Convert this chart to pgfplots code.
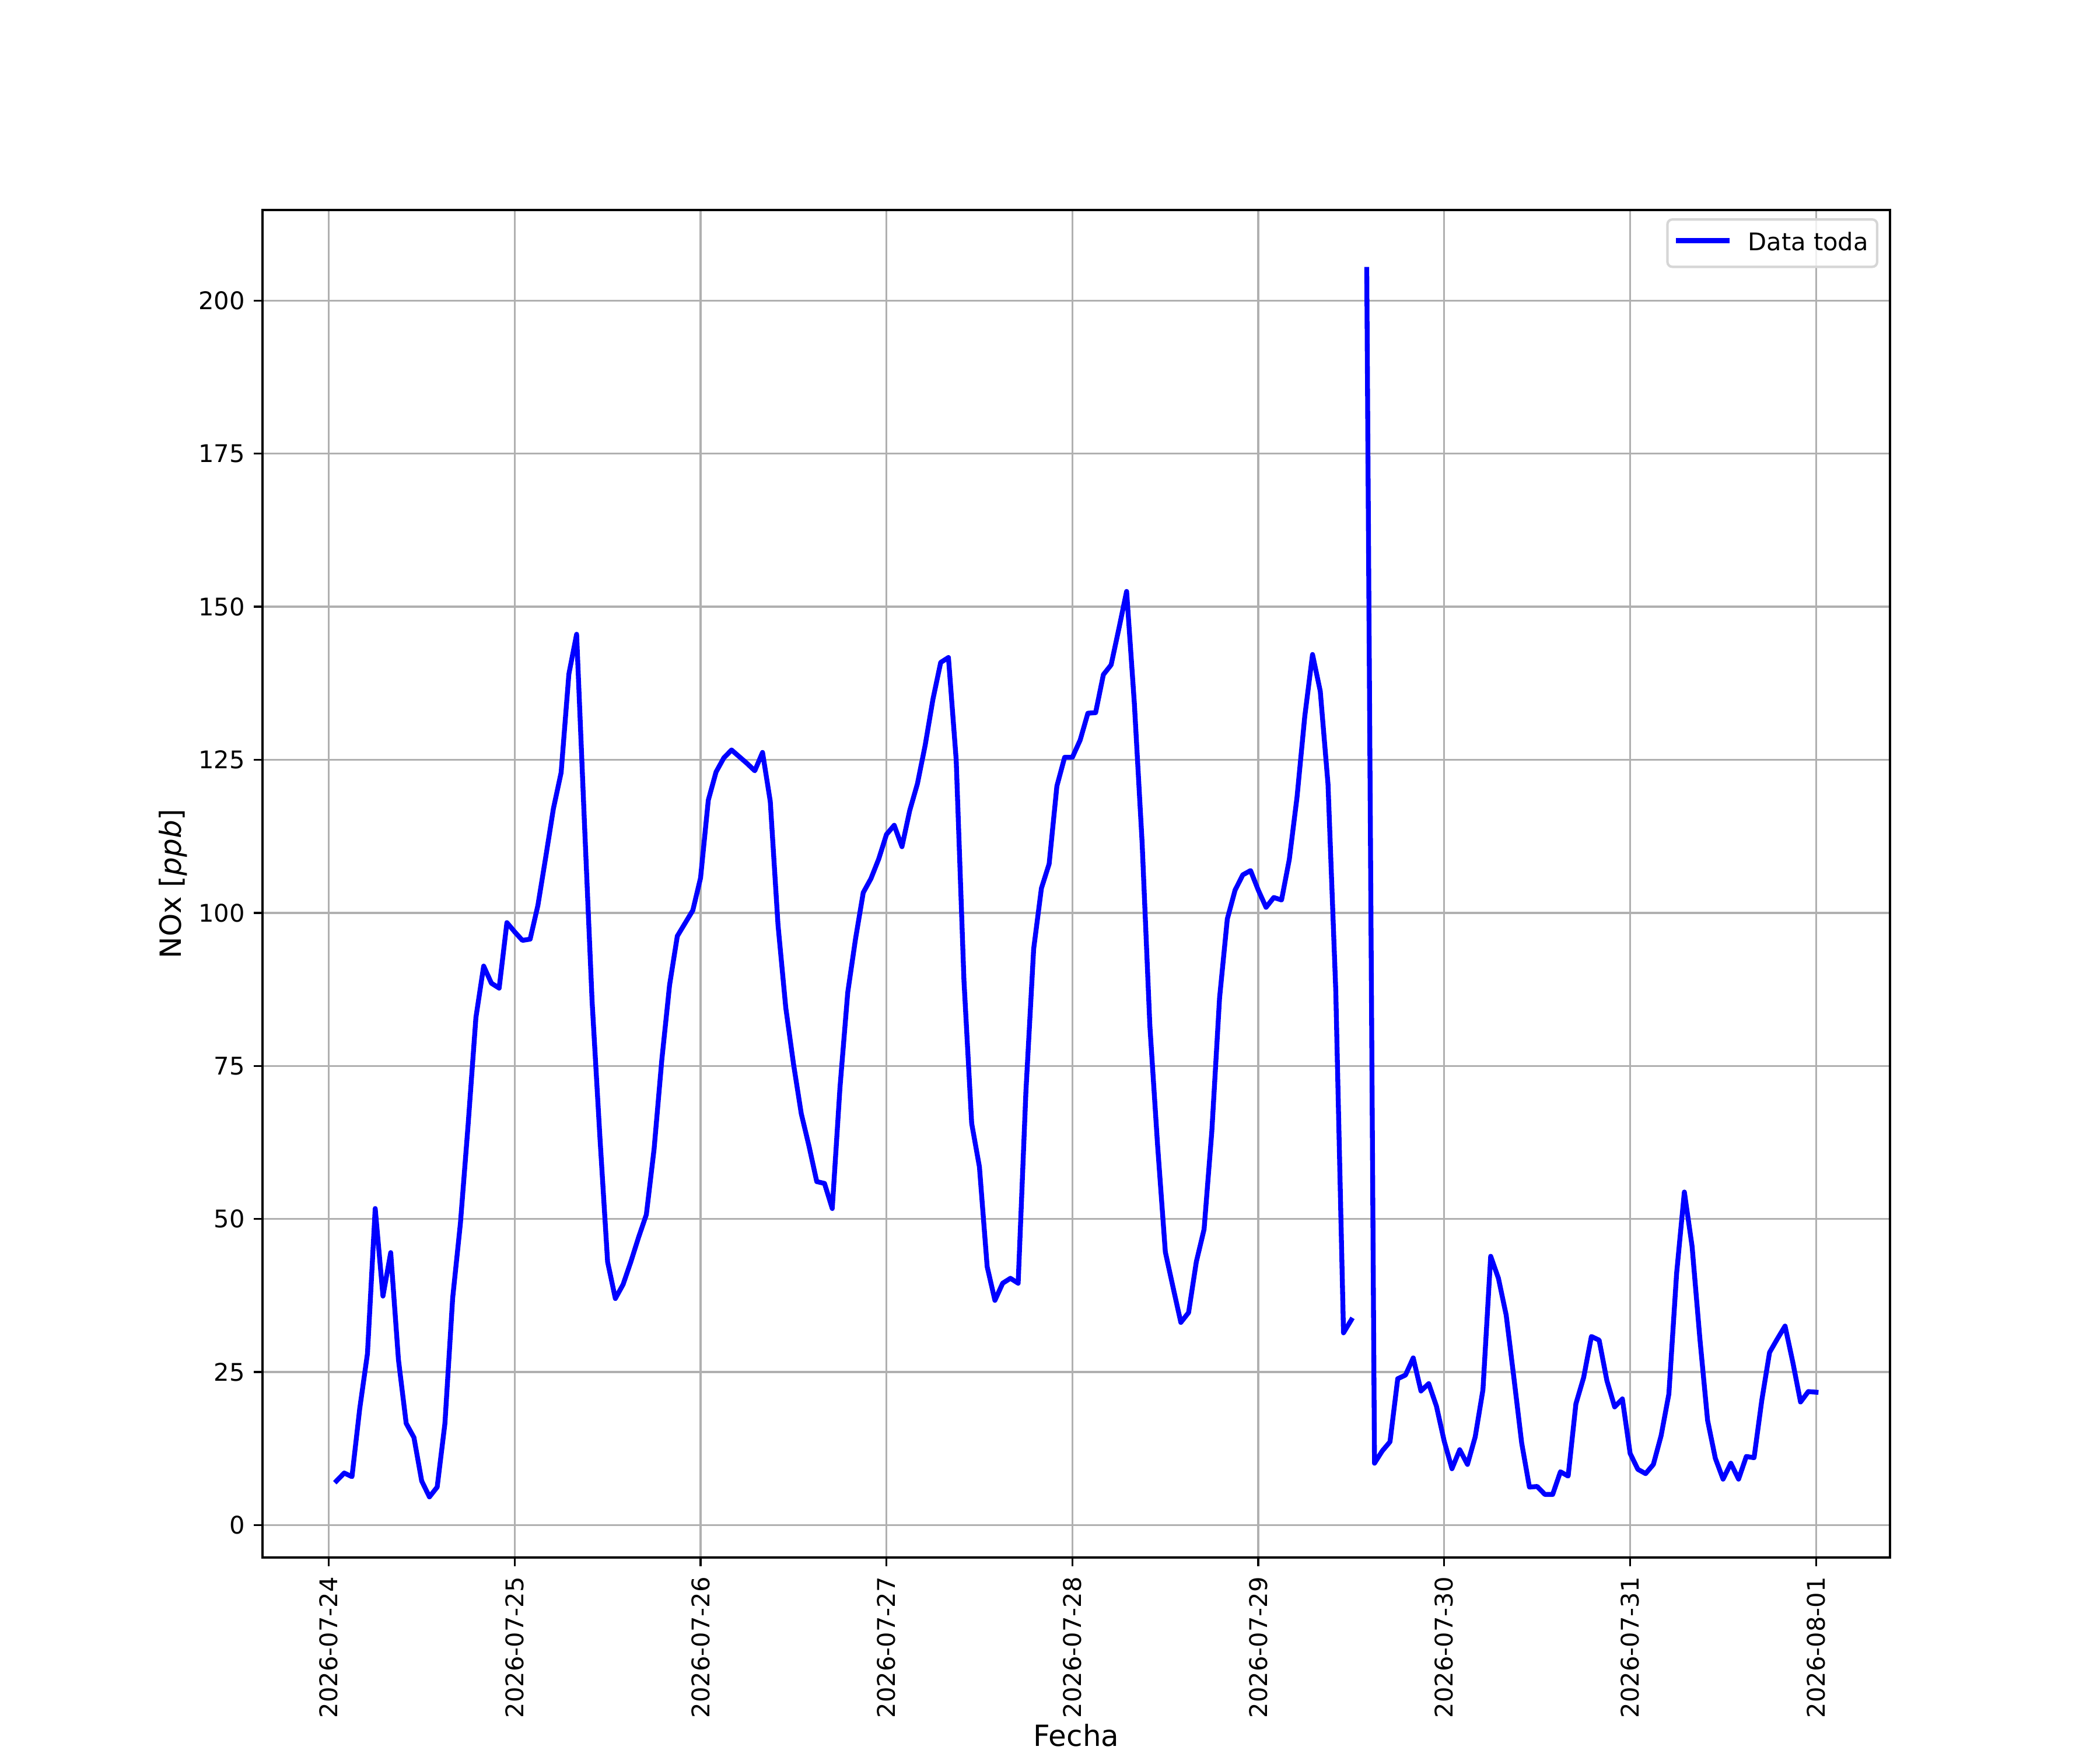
\documentclass[border=0pt]{standalone}
\usepackage{fontspec}
\setmainfont{DejaVu Sans}
\usepackage{pgfplots}
\pgfplotsset{compat=1.18}
\definecolor{gridgray}{HTML}{B0B0B0}
\definecolor{legframe}{HTML}{D6D6D6}
\begin{document}
\begin{tikzpicture}
\path[use as bounding box] (0,0) rectangle (30.48cm,25.4cm);
\begin{axis}[
  at={(3.81cm,2.794cm)}, anchor=south west,
  scale only axis, width=23.622cm, height=19.558cm,
  xmin=-8.55, xmax=201.55, ymin=-5.3, ymax=214.8,
  xtick={0,24,48,72,96,120,144,168,192},
  xticklabels={2026-07-24,2026-07-25,2026-07-26,2026-07-27,2026-07-28,2026-07-29,2026-07-30,2026-07-31,2026-08-01},
  ytick={0,25,50,75,100,125,150,175,200},
  grid=major,
  major grid style={draw=gridgray, line width=0.8bp},
  axis line style={line width=0.8bp},
  tick align=outside, tick pos=left,
  major tick length=3.5bp,
  every tick/.style={black, line width=0.8bp},
  minor tick num=0,
  /pgf/number format/assume math mode=true,
  tick label style={font=\fontsize{10bp}{12bp}\selectfont, inner sep=0pt},
  xticklabel style={yshift=-4.3bp, rotate=90, anchor=east},
  yticklabel style={xshift=-3.6bp, anchor=east},
  xlabel={Fecha}, ylabel={NOx [\textit{ppb}]},
  label style={font=\fontsize{12bp}{14bp}\selectfont, inner sep=0pt},
  xlabel style={at={(axis description cs:0.5,-0.1232)}, anchor=north},
  ylabel style={at={(axis description cs:-0.0548,0.5)}, anchor=center},
  unbounded coords=jump,
  legend style={at={(axis description cs:1,1)}, anchor=north east, xshift=-4.8bp, yshift=-3.4bp,
    draw=legframe, line width=1bp, rounded corners=2bp, fill=white, fill opacity=0.8,
    draw opacity=1, text opacity=1, inner xsep=3.6bp, inner ysep=5.2bp,
    font=\fontsize{10bp}{12bp}\selectfont, nodes={inner sep=0pt},
    /tikz/every odd column/.append style={column sep=7.5bp}},
  legend image code/.code={\draw[#1, line cap=rect] (0bp,1bp) -- (20bp,1bp);},
]
\addplot[blue, line width=2bp, line join=round, line cap=rect] coordinates {
(1,7.2) (2,8.5) (3,7.9) (4,19.0) (5,28.0) (6,51.7) (7,37.4) (8,44.5) (9,27.0) (10,16.6)
(11,14.3) (12,7.2) (13,4.6) (14,6.2) (15,16.6) (16,37.1) (17,49.3) (18,65.5) (19,82.9) (20,91.3)
(21,88.5) (22,87.7) (23,98.4) (24,96.9) (25,95.5) (26,95.7) (27,101.2) (28,109.0) (29,117.0) (30,122.9)
(31,139.0) (32,145.5) (33,115.0) (34,85.5) (35,63.5) (36,43.0) (37,37.0) (38,39.3) (39,43.0) (40,47.0)
(41,50.7) (42,61.4) (43,76.0) (44,88.2) (45,96.2) (46,98.3) (47,100.4) (48,105.7) (49,118.4) (50,123.0)
(51,125.3) (52,126.6) (53,125.5) (54,124.4) (55,123.2) (56,126.2) (57,118.2) (58,98.0) (59,84.5) (60,75.3)
(61,67.2) (62,61.9) (63,56.1) (64,55.8) (65,51.7) (66,71.5) (67,87.0) (68,95.7) (69,103.3) (70,105.6)
(71,108.8) (72,112.8) (73,114.3) (74,110.8) (75,116.7) (76,121.1) (77,127.4) (78,134.9) (79,140.9) (80,141.7)
(81,125.0) (82,89.0) (83,65.6) (84,58.5) (85,42.2) (86,36.7) (87,39.5) (88,40.3) (89,39.5) (90,70.8)
(91,94.1) (92,104.0) (93,108.0) (94,120.7) (95,125.4) (96,125.4) (97,128.2) (98,132.6) (99,132.7) (100,138.9)
(101,140.5) (102,146.4) (103,152.5) (104,134.2) (105,111.5) (106,81.6) (107,62.0) (108,44.6) (109,38.8) (110,33.1)
(111,34.7) (112,43.0) (113,48.3) (114,64.3) (115,86.1) (116,99.0) (117,103.7) (118,106.2) (119,106.9) (120,103.7)
(121,100.9) (122,102.5) (123,102.1) (124,108.7) (125,118.9) (126,132.1) (127,142.2) (128,136.2) (129,121.0) (130,87.3)
(131,31.4) (132,33.5) (133,nan) (134,205.1) (135,10.1) (136,12.1) (137,13.6) (138,23.9) (139,24.5) (140,27.3)
(141,21.9) (142,23.1) (143,19.4) (144,13.7) (145,9.2) (146,12.3) (147,9.9) (148,14.4) (149,22.1) (150,43.9)
(151,40.3) (152,34.3) (153,24.0) (154,13.4) (155,6.2) (156,6.3) (157,5.0) (158,5.0) (159,8.7) (160,8.0)
(161,19.8) (162,24.1) (163,30.8) (164,30.2) (165,23.6) (166,19.3) (167,20.6) (168,11.7) (169,9.1) (170,8.4)
(171,9.9) (172,14.6) (173,21.4) (174,41.1) (175,54.4) (176,45.5) (177,30.5) (178,17.1) (179,10.9) (180,7.5)
(181,10.1) (182,7.5) (183,11.2) (184,11.0) (185,20.4) (186,28.2) (187,30.4) (188,32.5) (189,26.6) (190,20.1)
(191,21.8) (192,21.7)
};
\addlegendentry{Data toda}
\end{axis}
\end{tikzpicture}
\end{document}
